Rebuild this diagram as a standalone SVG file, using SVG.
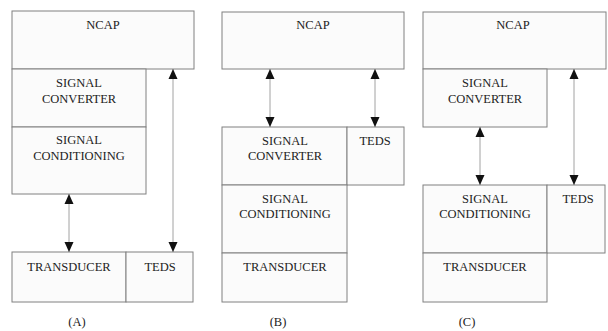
<svg xmlns="http://www.w3.org/2000/svg" width="608" height="331" viewBox="0 0 608 331">
<defs>
<style>
.box{fill:#fbfbfb;stroke:#808080;stroke-width:1}
.t{font-family:'Liberation Serif','Times New Roman','DejaVu Serif',serif;font-size:12.5px;fill:#222;text-anchor:middle}
.c{stroke:#8a8a8a;stroke-width:0.8;fill:none;marker-start:url(#ah);marker-end:url(#ah)}
</style>
<marker id="ah" viewBox="0 0 10 10" refX="10" refY="5" markerWidth="10" markerHeight="10" markerUnits="userSpaceOnUse" orient="auto-start-reverse">
<path d="M0,0.5 L10,5 L0,9.5 Z" fill="#111"/>
</marker>
</defs>
<rect width="608" height="331" fill="#fff"/>
<g font-family="Liberation Serif, Times New Roman, serif">
<!-- Panel A -->
<g id="a-ncap"><rect class="box" x="12" y="11" width="182" height="58"/><text class="t" x="103" y="29">NCAP</text></g>
<g id="a-conv"><rect class="box" x="12" y="69" width="134" height="58"/><text class="t" x="79" y="87">SIGNAL</text><text class="t" x="79" y="103">CONVERTER</text></g>
<g id="a-cond"><rect class="box" x="12" y="127" width="134" height="67"/><text class="t" x="79" y="144">SIGNAL</text><text class="t" x="79" y="160">CONDITIONING</text></g>
<g id="a-trans"><rect class="box" x="12" y="252" width="114" height="50"/><text class="t" x="69" y="271">TRANSDUCER</text></g>
<g id="a-teds"><rect class="box" x="126" y="252" width="67" height="50"/><text class="t" x="160" y="271">TEDS</text></g>
<text class="t" x="77" y="326">(A)</text>
<!-- Panel B -->
<g id="b-ncap"><rect class="box" x="222" y="12" width="182" height="57"/><text class="t" x="313" y="29">NCAP</text></g>
<g id="b-conv"><rect class="box" x="222" y="127" width="125" height="58"/><text class="t" x="285" y="145">SIGNAL</text><text class="t" x="285" y="160">CONVERTER</text></g>
<g id="b-teds"><rect class="box" x="347" y="127" width="57" height="58"/><text class="t" x="375" y="145">TEDS</text></g>
<g id="b-cond"><rect class="box" x="222" y="185" width="125" height="68"/><text class="t" x="285" y="203">SIGNAL</text><text class="t" x="285" y="218">CONDITIONING</text></g>
<g id="b-trans"><rect class="box" x="222" y="253" width="125" height="49"/><text class="t" x="285" y="271">TRANSDUCER</text></g>
<text class="t" x="278" y="326">(B)</text>
<!-- Panel C -->
<g id="c-ncap"><rect class="box" x="423" y="12" width="183" height="57"/><text class="t" x="513" y="29">NCAP</text></g>
<g id="c-conv"><rect class="box" x="423" y="69" width="124" height="58"/><text class="t" x="485" y="87">SIGNAL</text><text class="t" x="485" y="103">CONVERTER</text></g>
<g id="c-cond"><rect class="box" x="423" y="185" width="124" height="68"/><text class="t" x="485" y="203">SIGNAL</text><text class="t" x="485" y="218">CONDITIONING</text></g>
<g id="c-teds"><rect class="box" x="547" y="185" width="58" height="68"/><text class="t" x="578" y="203">TEDS</text></g>
<g id="c-trans"><rect class="box" x="423" y="253" width="124" height="49"/><text class="t" x="485" y="271">TRANSDUCER</text></g>
<text class="t" x="467" y="326">(C)</text>
</g>
<!-- Connectors -->
<g id="connectors">
<line class="c" x1="69" y1="194" x2="69" y2="252"/>
<line class="c" x1="173" y1="69" x2="173" y2="252"/>
<line class="c" x1="270" y1="69" x2="270" y2="127"/>
<line class="c" x1="375" y1="69" x2="375" y2="127"/>
<line class="c" x1="480" y1="127" x2="480" y2="185"/>
<line class="c" x1="574" y1="69" x2="574" y2="185"/>
</g>
</svg>
